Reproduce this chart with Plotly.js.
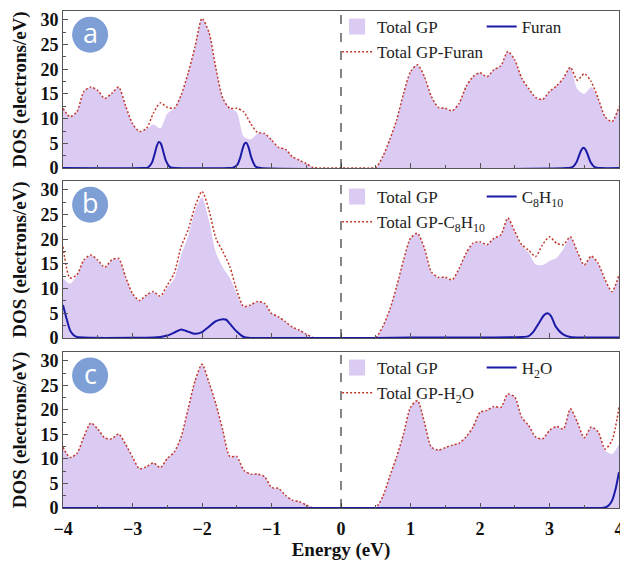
<!DOCTYPE html>
<html>
<head>
<meta charset="utf-8">
<script src="https://cdn.plot.ly/plotly-3.0.1.min.js"></script>
<style>html,body{margin:0;padding:0;background:#fff}#chart{width:620px;height:565px}</style>
</head>
<body>
<div id="chart"></div>
<script>
// Energy grid (eV)
const energy = [-4.0,-3.9,-3.8,-3.7,-3.6,-3.5,-3.4,-3.3,-3.2,-3.1,
 -3.0,-2.9,-2.8,-2.7,-2.6,-2.5,-2.4,-2.3,-2.2,-2.1,
 -2.0,-1.9,-1.8,-1.7,-1.6,-1.5,-1.4,-1.3,-1.2,-1.1,
 -1.0,-0.9,-0.8,-0.7,-0.6,-0.5,-0.4,-0.3,-0.2,-0.1,
 0.0,0.1,0.2,0.3,0.4,0.5,0.6,0.7,0.8,0.9,
 1.0,1.1,1.2,1.3,1.4,1.5,1.6,1.7,1.8,1.9,
 2.0,2.1,2.2,2.3,2.4,2.5,2.6,2.7,2.8,2.9,
 3.0,3.1,3.2,3.3,3.4,3.5,3.6,3.7,3.8,3.9,
 4.0];

// Panel a
const totalGP_a = [12.1,10.4,11.4,15.5,16.4,15.7,14.1,15.1,16.4,12.6,
 9.0,7.4,7.9,8.8,8.0,11.0,12.1,14.8,19.2,24.6,
 30.3,27.5,20.2,14.1,12.1,11.3,6.4,5.8,7.0,7.0,
 5.7,4.2,3.8,2.3,1.6,0.9,0.1,0,0,0,
 0,0,0,0,0,0.1,2.3,5.7,9.7,15.1,
 19.5,20.9,18.5,14.5,12.3,12.1,11.6,13.1,16.5,18.5,
 19.3,18.5,19.9,20.7,23.6,21.9,18.2,16.1,14.3,13.9,
 15.5,16.6,18.2,20.4,16.0,15.0,16.4,14.1,10.4,9.4,
 12.4];
const totalGPFuran_a = [12.1,10.4,11.4,15.5,16.4,15.7,14.1,15.1,16.4,12.6,
 9.0,7.4,8.0,11.1,13.2,12.3,12.1,14.8,19.2,24.6,
 30.3,27.5,20.2,14.1,12.1,12.1,11.4,9.0,7.2,7.0,
 5.7,4.2,3.8,2.3,1.6,0.9,0.1,0,0,0,
 0,0,0,0,0,0.1,2.3,5.7,9.7,15.1,
 19.5,20.9,18.5,14.5,12.3,12.1,11.6,13.1,16.5,18.5,
 19.3,18.5,19.9,20.7,23.6,21.9,18.2,16.1,14.3,13.9,
 15.5,16.6,18.2,20.4,17.8,19.1,17.5,14.1,10.4,9.4,
 12.4];
const furanE = [-4.0,-2.85,-2.78,-2.72,-2.68,-2.65,-2.62,-2.59,-2.56,-2.52,-2.46,-2.38,
 -1.62,-1.55,-1.49,-1.45,-1.42,-1.39,-1.36,-1.33,-1.29,-1.23,-1.15,
 3.24,3.33,3.39,3.43,3.46,3.49,3.52,3.55,3.59,3.65,3.74,4.0];
const furan_a = [0,0,0.1,1.1,2.9,4.5,5.3,4.9,3.5,1.5,0.2,0,
 0,0.1,0.7,2.1,3.7,4.9,5.1,4.2,2.1,0.3,0,
 0,0.2,1.25,2.7,3.7,4.1,3.7,2.7,1.25,0.2,0,0];

// Panel b
const totalGP_b = [12.1,11.0,12.6,15.7,16.7,15.7,14.2,15.7,16.0,12.3,
 8.9,7.5,8.6,9.3,8.3,10.2,12.0,16.8,20.6,25.8,
 28.5,23.8,17.3,14.3,12.2,9.0,6.3,6.7,7.4,7.0,
 5.0,4.3,3.3,2.2,1.6,0.8,0.1,0,0,0,
 0,0,0,0,0,0.1,2.3,5.7,10.3,15.7,
 20.1,21.1,18.1,13.3,12.2,12.2,11.7,14.0,17.1,19.1,
 19.4,18.8,20.1,20.8,24.2,21.5,18.7,17.3,14.9,14.8,
 15.6,16.2,18.0,20.4,17.4,14.7,16.5,15.0,11.7,9.3,
 12.7];
const totalGPC8H10_b = [18.5,12.2,12.8,15.8,16.8,15.8,14.3,15.8,16.1,12.4,
 9.0,7.6,8.7,9.4,8.5,10.7,13.1,18.5,21.9,26.6,
 29.7,25.9,20.2,17.5,14.5,9.7,6.4,6.7,7.4,7.0,
 5.0,4.3,3.3,2.2,1.6,0.8,0.1,0,0,0,
 0,0,0,0,0,0.1,2.3,5.7,10.4,15.8,
 20.2,21.2,18.2,13.4,12.3,12.3,11.8,14.1,17.2,19.2,
 19.5,18.9,20.2,20.9,24.3,21.6,18.9,17.8,16.5,18.9,
 20.5,19.2,18.9,20.5,17.5,14.8,16.6,15.1,11.8,9.4,
 12.8];
const c8E = [-4.0,-3.95,-3.9,-3.85,-3.8,-3.6,-3.0,
 -2.7,-2.6,-2.5,-2.4,-2.3,-2.2,-2.1,-2.0,-1.9,-1.8,-1.7,-1.65,-1.6,-1.5,-1.4,-1.3,
 -1.0,0.5,1.0,2.0,2.6,
 2.7,2.77,2.86,2.92,2.97,3.02,3.09,3.19,3.3,3.5,4.0];
const c8h10_b = [6.7,4.0,1.6,0.6,0.2,0.05,0.05,
 0.1,0.2,0.5,1.1,1.75,1.3,0.85,1.2,2.3,3.4,3.8,3.7,2.9,1.3,0.2,0,
 0,0,0.1,0.1,0.2,
 0.4,1.3,3.3,4.6,5.0,4.5,2.3,0.8,0.2,0.1,0.1];

// Panel c
const totalGP_c = [12.4,10.3,11.1,14.5,17.3,16.1,14.3,14.1,15.1,13.0,
 10.4,8.0,8.4,9.2,8.2,10.1,11.4,14.5,20.2,25.9,
 29.3,25.6,21.2,15.8,10.5,10.5,7.7,6.9,6.9,6.4,
 4.2,4.0,2.6,1.6,1.3,0.6,0,0,0,0,
 0,0,0,0,0,0.1,2.3,6.4,10.4,15.1,
 20.5,21.9,17.5,12.4,11.8,12.3,12.8,13.2,14.5,16.5,
 19.5,19.9,20.7,20.5,23.2,22.6,18.5,16.8,14.5,14.1,
 15.8,16.6,16.1,20.2,17.5,14.3,16.5,15.5,11.7,11.0,
 13.0];
const totalGPH2O_c = [12.4,10.3,11.1,14.5,17.3,16.1,14.3,14.1,15.1,13.0,
 10.4,8.0,8.4,9.2,8.2,10.1,11.4,14.5,20.2,25.9,
 29.3,25.6,21.2,15.8,10.5,10.5,7.7,6.9,6.9,6.4,
 4.2,4.0,2.6,1.6,1.3,0.6,0,0,0,0,
 0,0,0,0,0,0.1,2.3,6.4,10.4,15.1,
 20.5,21.9,17.5,12.4,11.8,12.3,12.8,13.2,14.5,16.5,
 19.5,19.9,20.7,20.5,23.2,22.6,18.5,16.8,14.5,14.1,
 15.8,16.6,16.1,20.2,17.5,14.3,16.5,15.5,12.0,13.8,
 20.5];
const h2oE = [-4.0,3.75,3.8,3.85,3.9,3.95,4.0];
const h2o_c = [0,0,0.1,0.5,1.5,3.8,7.3];

const panelLetters = ['a','b','c'];
const molNames = ['Furan','C<sub>8</sub>H<sub>10</sub>','H<sub>2</sub>O'];

const FILL = '#dbcaf2';
const RED = '#c0392b';
const BLUE = '#1a1aa6';
const SERIF = 'Liberation Serif, Times New Roman, serif';

const panels = [
  {gp: totalGP_a, comb: totalGPFuran_a, molE: furanE, mol: furan_a},
  {gp: totalGP_b, comb: totalGPC8H10_b, molE: c8E, mol: c8h10_b},
  {gp: totalGP_c, comb: totalGPH2O_c, molE: h2oE, mol: h2o_c}
];

const traces = [];
const layout = {
  width: 620, height: 565,
  margin: {l: 63, r: 1, t: 11, b: 57},
  paper_bgcolor: '#fff', plot_bgcolor: '#fff',
  showlegend: true,
  shapes: [], annotations: []
};
const domains = [[0.684, 1.0], [0.342, 0.658], [0.0, 0.314]];
const legendTopPx = [9, 179, 350];

panels.forEach((p, i) => {
  const n = i === 0 ? '' : String(i + 1);
  const xa = 'x' + n, ya = 'y' + n;
  const L1 = 'legend' + (i === 0 ? '' : String(2 * i + 1));
  const L2 = 'legend' + String(2 * i + 2);
  traces.push({x: energy, y: p.gp, xaxis: xa, yaxis: ya, mode: 'lines', fill: 'tozeroy',
    fillcolor: FILL, line: {width: 0, color: FILL, shape: 'spline', smoothing: 0.7},
    showlegend: false, hoverinfo: 'skip'});
  traces.push({x: [null], y: [null], xaxis: xa, yaxis: ya, mode: 'markers',
    marker: {symbol: 'square', size: 16, color: FILL}, name: 'Total GP', legend: L1});
  traces.push({x: energy, y: p.comb, xaxis: xa, yaxis: ya, mode: 'lines',
    line: {color: RED, dash: '2px,2px', width: 1.5, shape: 'spline', smoothing: 0.7},
    name: 'Total GP-' + molNames[i], legend: L1});
  traces.push({x: p.molE, y: p.mol, xaxis: xa, yaxis: ya, mode: 'lines',
    line: {color: BLUE, width: 2, shape: 'spline', smoothing: 0.6},
    name: molNames[i], legend: L2});

  const axCommon = {showline: true, mirror: true, linecolor: '#555', linewidth: 1,
    ticks: 'inside', ticklen: 5, tickcolor: '#555', showgrid: false, zeroline: false,
    tickfont: {family: SERIF, size: 18, color: '#111', weight: 'bold'}};
  const xax = Object.assign({}, axCommon, {
    anchor: ya, range: [-4, 4], dtick: 1, tick0: 0,
    minor: {dtick: 0.5, ticks: 'inside', ticklen: 3, tickcolor: '#555'},
    showticklabels: i === 2
  });
  if (i === 2) {
    xax.ticklabelstandoff = 4;
    xax.ticklabeloverflow = 'allow';
    xax.title = {text: 'Energy (eV)', standoff: 4,
      font: {family: SERIF, size: 19, color: '#111', weight: 'bold'}};
  }
  if (i > 0) xax.matches = 'x';
  layout['xaxis' + n] = xax;
  layout['yaxis' + n] = Object.assign({}, axCommon, {
    anchor: xa, domain: domains[i], range: [0, 31.8], dtick: 5, tick0: 0,
    minor: {dtick: 2.5, ticks: 'inside', ticklen: 3, tickcolor: '#555'},
    title: {text: 'DOS (electrons/eV)', standoff: 8,
      font: {family: SERIF, size: 19, color: '#111', weight: 'bold'}}
  });

  const yTop = (508 - legendTopPx[i]) / 497;
  layout[L1] = {x: 0.493, xanchor: 'left', y: yTop, yanchor: 'top',
    bgcolor: 'rgba(0,0,0,0)', borderwidth: 0, tracegroupgap: 0,
    font: {family: SERIF, size: 17, color: '#222'}, itemclick: false};
  layout[L2] = {x: 0.753, xanchor: 'left', y: yTop, yanchor: 'top',
    bgcolor: 'rgba(0,0,0,0)', borderwidth: 0,
    font: {family: SERIF, size: 17, color: '#222'}, itemclick: false};

  layout.shapes.push({type: 'line', xref: xa, yref: ya + ' domain', x0: 0, x1: 0, y0: 0, y1: 1,
    line: {color: '#333', width: 1.2, dash: 'dash'}});
  layout.shapes.push({type: 'circle', xref: xa, yref: ya, xsizemode: 'pixel', ysizemode: 'pixel',
    xanchor: -3.61, yanchor: 27, x0: -18, x1: 18, y0: -18, y1: 18,
    fillcolor: '#7e9ed6', line: {width: 0}});
  layout.annotations.push({xref: xa, yref: ya, x: -3.61, y: 27, text: panelLetters[i],
    showarrow: false, xanchor: 'center', yanchor: 'middle', yshift: 2,
    font: {family: 'Open Sans, sans-serif', size: 27, color: '#fff'}});
});

Plotly.newPlot('chart', traces, layout, {staticPlot: true, displayModeBar: false});
</script>
</body>
</html>
